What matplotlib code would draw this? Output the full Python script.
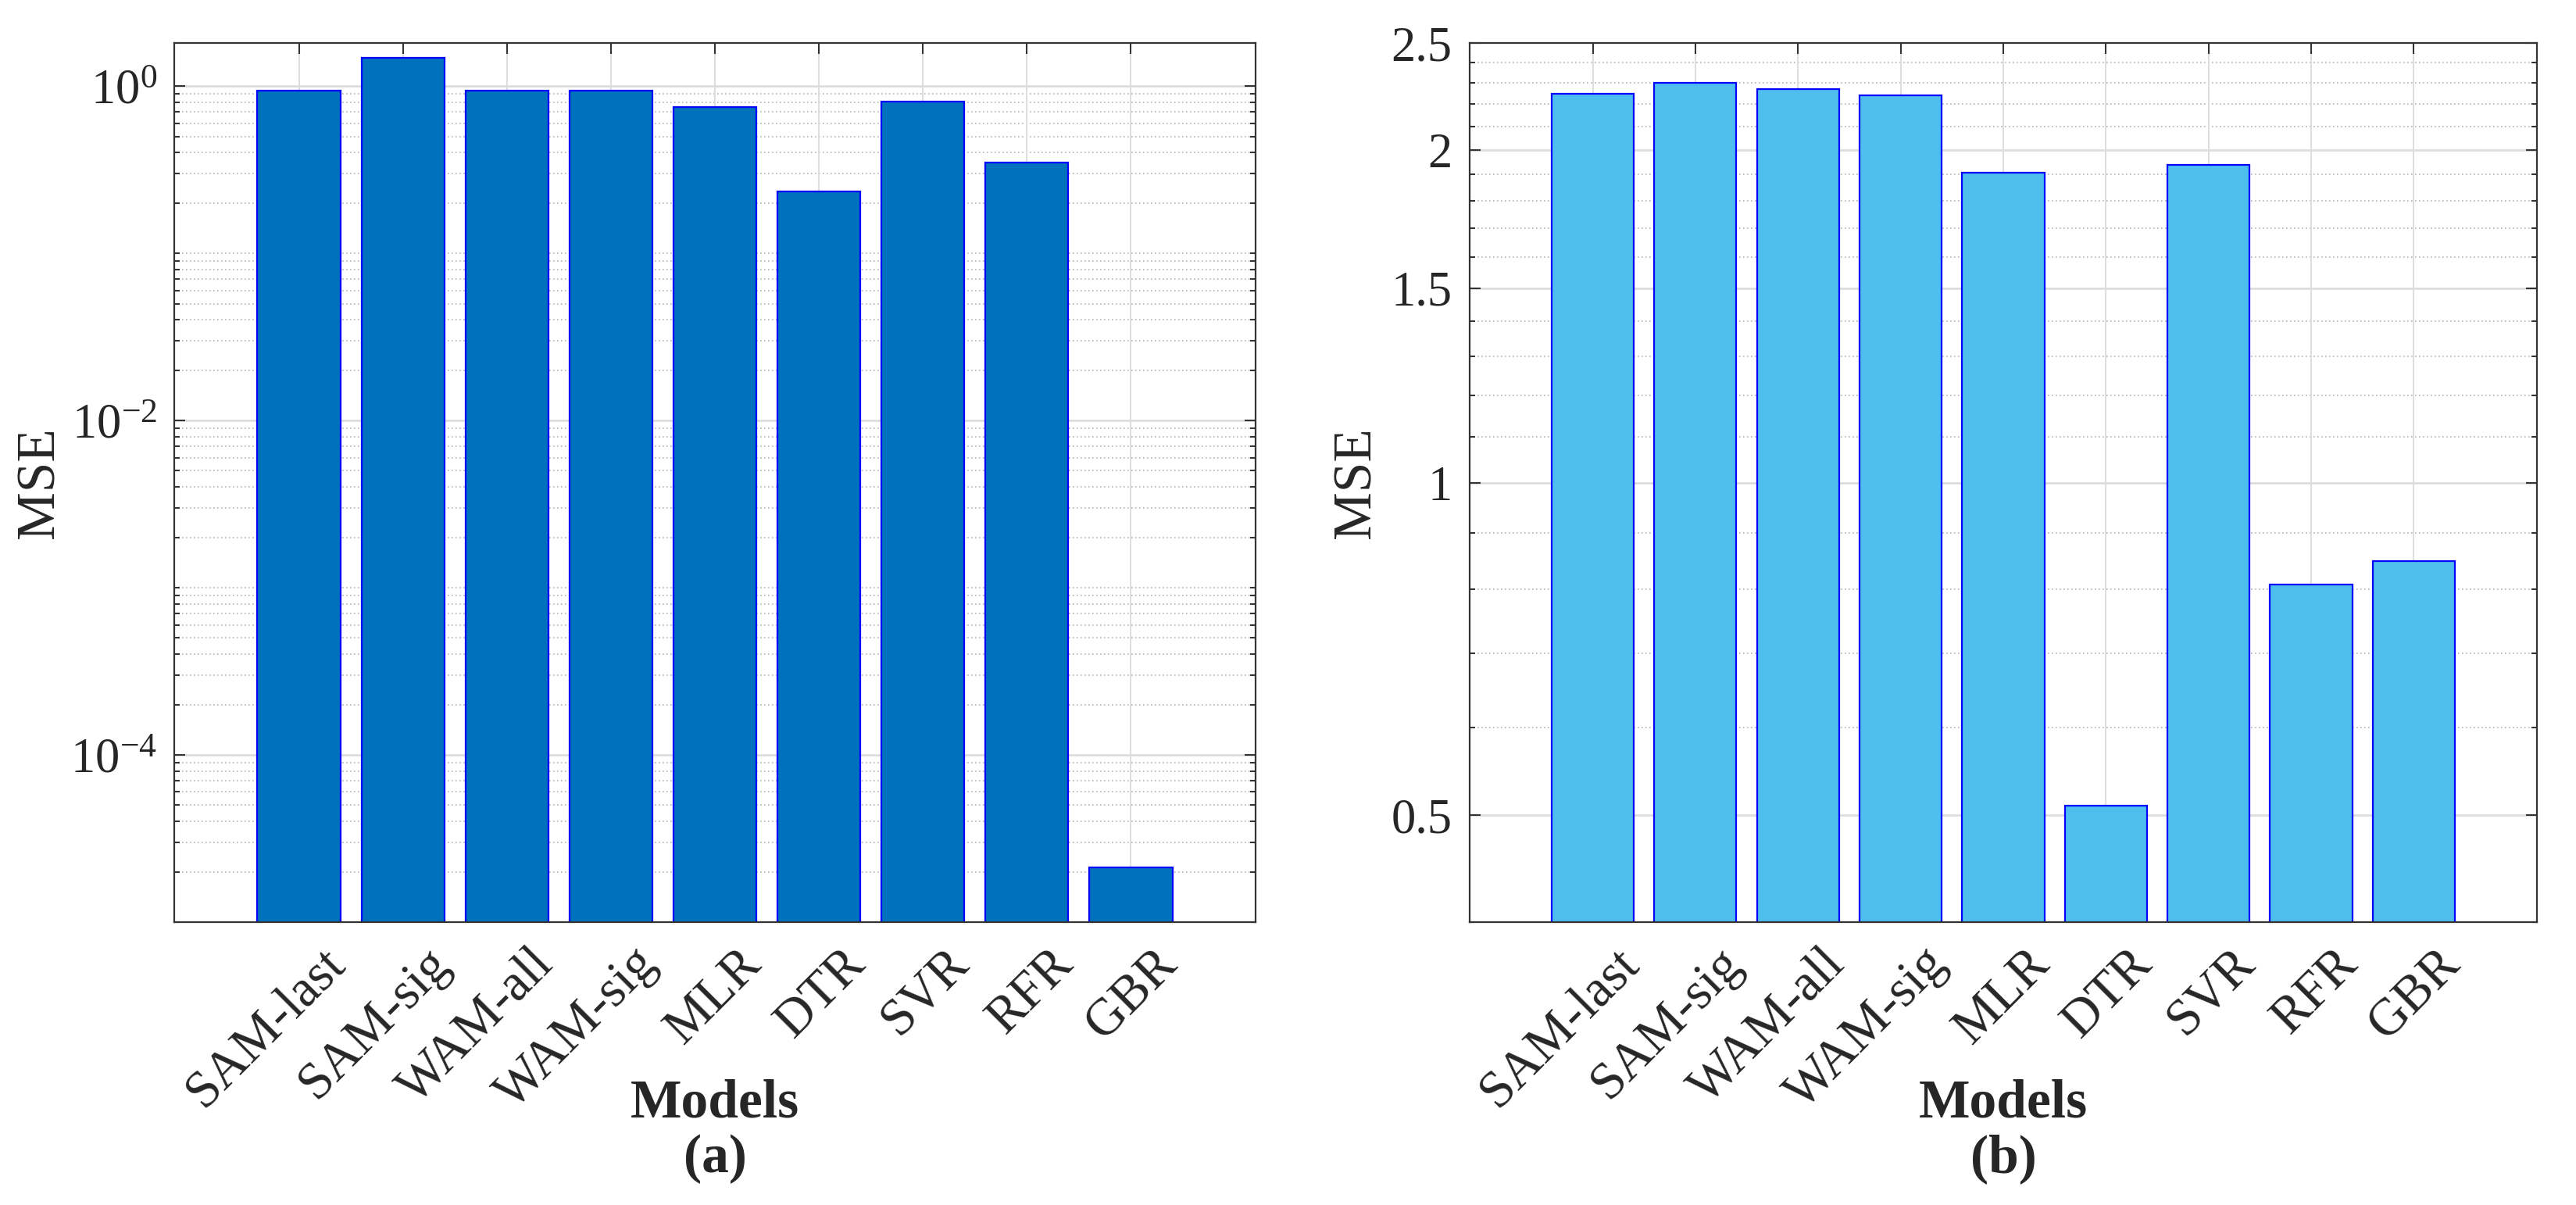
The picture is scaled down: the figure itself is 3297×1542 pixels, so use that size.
import numpy as np
import matplotlib
matplotlib.use('Agg')
import matplotlib.pyplot as plt
from matplotlib.ticker import FixedLocator, FixedFormatter, NullFormatter
from matplotlib.transforms import ScaledTranslation

# шрифт як у Times
plt.rcParams['font.family'] = ['Liberation Serif', 'DejaVu Serif']
plt.rcParams['mathtext.fontset'] = 'custom'
plt.rcParams['mathtext.rm'] = 'Liberation Serif'
plt.rcParams['mathtext.it'] = 'Liberation Serif:italic'
plt.rcParams['mathtext.bf'] = 'Liberation Serif:bold'

# дані
models = ['SAM-last', 'SAM-sig', 'WAM-all', 'WAM-sig', 'MLR', 'DTR', 'SVR', 'RFR', 'GBR']
mse_a = [0.938, 1.48, 0.94, 0.94, 0.75, 0.234, 0.806, 0.348, 2.12e-5]
mse_b = [2.25, 2.30, 2.27, 2.24, 1.907, 0.510, 1.939, 0.809, 0.849]

yticks_a = [1e-4, 1e-2, 1e0]
yticklabels_a = ['$10^{-4}$', '$10^{-2}$', '$10^{0}$']
yminor_a = [k * 10.0 ** e for e in range(-5, 1) for k in range(1, 10)]
ylim_a = (1e-5, 1.81)

yticks_b = [0.5, 1, 1.5, 2, 2.5]
yticklabels_b = ['0.5', '1', '1.5', '2', '2.5']
yminor_b = [v / 10 for v in range(4, 26)]
ylim_b = (0.4, 2.5)

DPI = 200
fig = plt.figure(figsize=(3298 / DPI, 1542 / DPI), dpi=DPI)
ax_a = fig.add_axes([223 / 3298, 1 - 1180 / 1542, 1384 / 3298, 1125 / 1542])
ax_b = fig.add_axes([1881 / 3298, 1 - 1180 / 1542, 1366 / 3298, 1125 / 1542])

TXT = '#262626'
AXC = '#333333'


def draw_panel(ax, vals, color, yticks, ylabels, yminor, ylim, tag):
    x = np.arange(1, len(models) + 1)
    ax.set_yscale('log')
    ax.bar(x, vals, width=0.8, color=color, edgecolor='#0000ff', linewidth=0.8, zorder=2)
    ax.set_xlim(-0.2, 10.2)
    ax.set_ylim(*ylim)

    ax.yaxis.set_major_locator(FixedLocator(yticks))
    ax.yaxis.set_major_formatter(FixedFormatter(ylabels))
    ax.yaxis.set_minor_locator(FixedLocator(yminor))
    ax.yaxis.set_minor_formatter(NullFormatter())
    ax.set_xticks(x)
    ax.set_xticklabels(models, rotation=45, ha='right', va='top', rotation_mode='anchor')

    # сітка вручну, щоб вона була під стовпчиками, а риски - над ними
    for v in yminor:
        if ylim[0] < v < ylim[1] and not np.any(np.isclose(v, yticks)):
            ax.axhline(v, color='#b4b4b4', lw=0.6, ls=(0, (1, 2)), zorder=0.5)
    for v in yticks:
        if ylim[0] < v < ylim[1]:
            ax.axhline(v, color='#dedede', lw=1.0, zorder=0.6)
    for v in x:
        ax.axvline(v, color='#dedede', lw=0.7, zorder=0.6)

    ax.tick_params(axis='both', which='both', direction='in', top=True, right=True,
                   color=AXC, labelcolor=TXT, labelsize=22.5)
    ax.tick_params(axis='x', labelsize=24)
    ax.tick_params(axis='both', which='major', length=5, width=0.75)
    ax.tick_params(axis='y', which='minor', length=2.5, width=0.75)
    ax.tick_params(axis='y', which='major', pad=8)
    ax.tick_params(axis='x', which='major', pad=8)
    for s in ax.spines.values():
        s.set_color(AXC)
        s.set_linewidth(0.8)

    off = ScaledTranslation(28 / DPI, 0, fig.dpi_scale_trans)
    for lbl in ax.get_xticklabels():
        lbl.set_transform(lbl.get_transform() + off)

    ax.set_ylabel('MSE', fontsize=25, color=TXT, va='center')
    ax.set_xlabel('Models\n(' + tag + ')', fontsize=25, fontweight='bold', color=TXT,
                  linespacing=1.15, va='top')


draw_panel(ax_a, mse_a, '#0072bd', yticks_a, yticklabels_a, yminor_a, ylim_a, 'a')
draw_panel(ax_b, mse_b, '#4dbeee', yticks_b, yticklabels_b, yminor_b, ylim_b, 'b')

ax_a.yaxis.set_label_coords((52 - 223) / 1384, 0.5)
ax_b.yaxis.set_label_coords((1737 - 1881) / 1366, 0.5)
ax_a.xaxis.set_label_coords(0.5, (1180 - 1380) / 1125)
ax_b.xaxis.set_label_coords(0.5, (1180 - 1380) / 1125)

fig.savefig('out.png', dpi=DPI, facecolor='white')
